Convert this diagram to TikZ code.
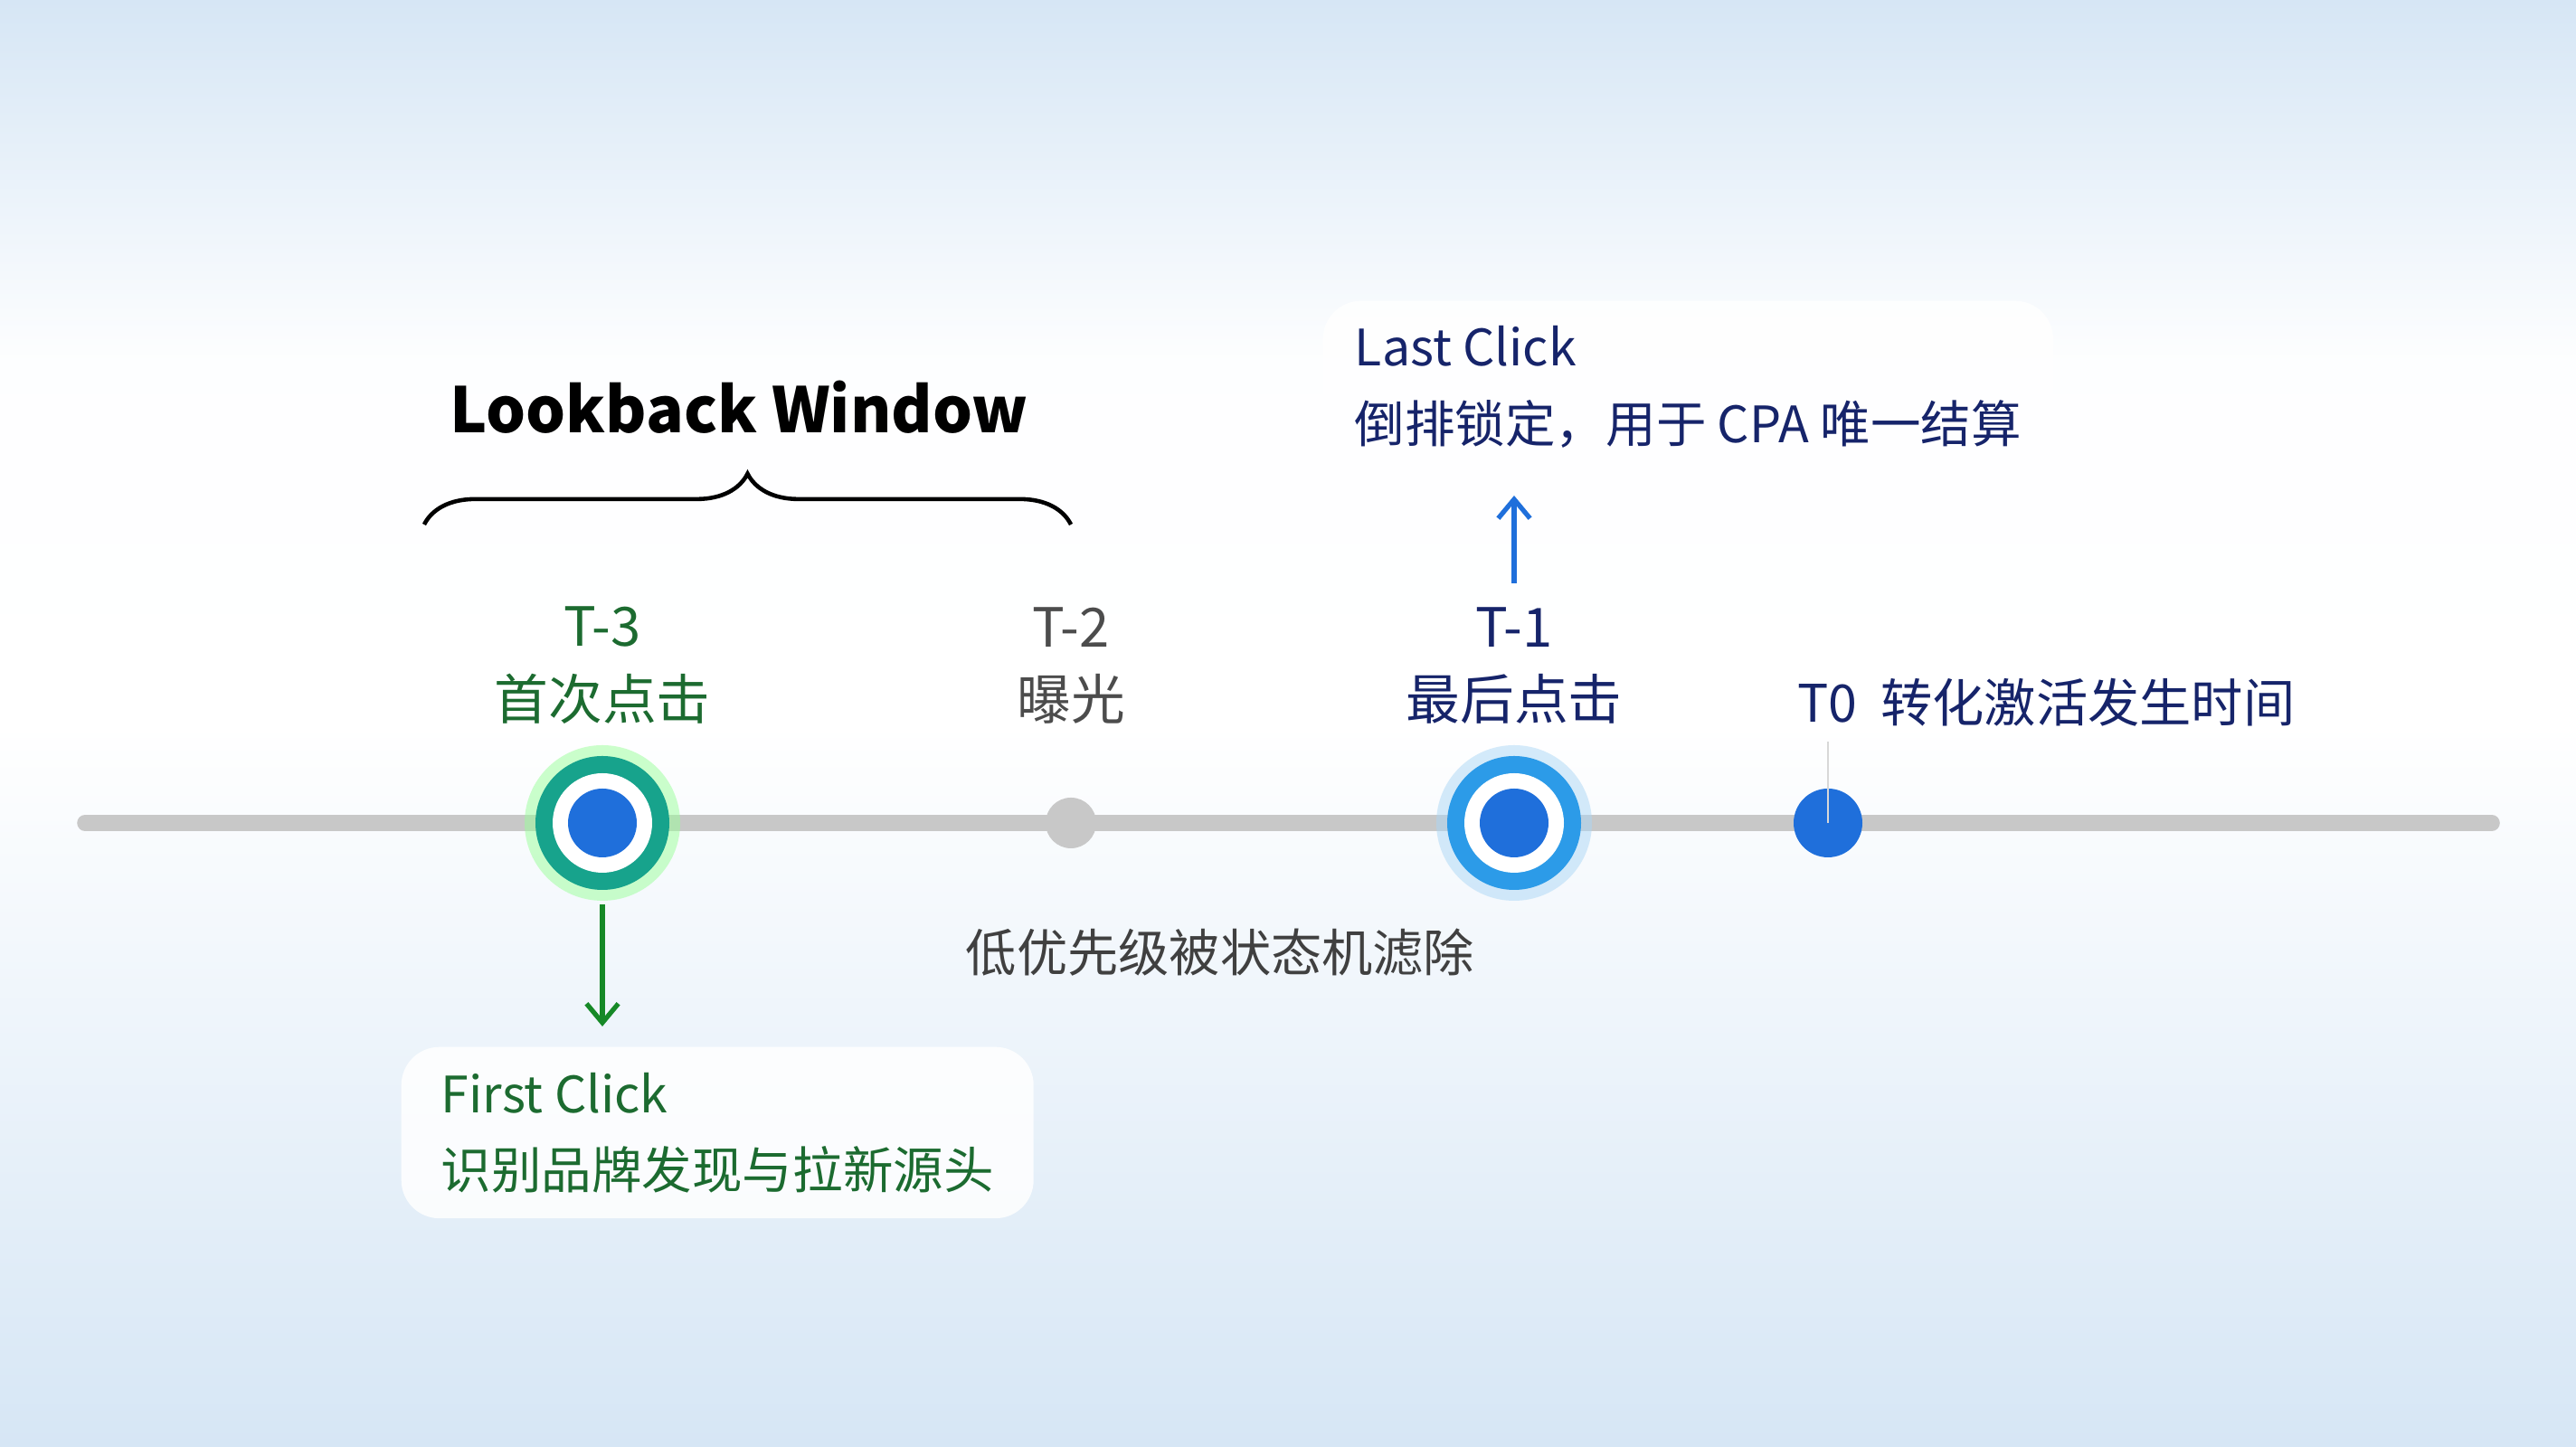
\documentclass[tikz,border=0pt]{standalone}
\usepackage{fontspec}
\setmainfont{Noto Sans CJK SC}
\usetikzlibrary{positioning,decorations.pathreplacing,arrows.meta}
\definecolor{bgblue}{HTML}{D6E6F5}
\definecolor{fgreen}{HTML}{1C6B30}
\definecolor{fnavy}{HTML}{16246A}
\definecolor{dotblue}{HTML}{1F6FDB}
\definecolor{tealring}{HTML}{17A38C}
\definecolor{skyring}{HTML}{2C9BE8}
\definecolor{axisgray}{HTML}{C8C8C8}
\tikzset{
  lbl/.style={font=\fontsize{17}{23}\selectfont, align=center},
  card/.style={fill=white, fill opacity=0.85, text opacity=1, rounded corners=12pt,
    align=left, inner xsep=10pt, inner ysep=8pt, font=\fontsize{15.8}{24}\selectfont},
  pointer/.style={-{Straight Barb[length=6pt,width=10pt]}, line width=1.5pt}
}
\begin{document}
\begin{tikzpicture}
    \useasboundingbox (0,0) rectangle (28.48,16);
    \shade[top color=bgblue, bottom color=white, middle color=white!96!bgblue] (0,8) rectangle (28.48,16);
    \shade[top color=white, bottom color=bgblue] (0,0) rectangle (28.48,8);
    % axis
    \coordinate (ax0) at (0.94,6.9);
    \coordinate (ax1) at (27.55,6.9);
    \draw[axisgray, line width=5pt, line cap=round] (ax0) -- (ax1);
    % points
    \coordinate (t3) at (6.66,6.9);
    \coordinate (t2) at (11.84,6.9);
    \coordinate (t1) at (16.74,6.9);
    \coordinate (t0) at (20.21,6.9);
    \fill[green!40, opacity=0.5] (t3) circle (0.86);
    \fill[tealring] (t3) circle (0.74);
    \fill[white] (t3) circle (0.55);
    \fill[dotblue] (t3) circle (0.38);
    \fill[axisgray] (t2) circle (0.28);
    \fill[skyring!40, opacity=0.5] (t1) circle (0.86);
    \fill[skyring] (t1) circle (0.74);
    \fill[white] (t1) circle (0.55);
    \fill[dotblue] (t1) circle (0.38);
    \fill[dotblue] (t0) circle (0.38);
    % labels
    \node[lbl, text=fgreen] (l3) at (6.66,8.64) {T-3\\首次点击};
    \node[lbl, text=black!70] (l2) at (11.84,8.64) {T-2\\曝光};
    \node[lbl, text=fnavy] (l1) at (16.74,8.64) {T-1\\最后点击};
    \node[font=\fontsize{16.3}{20}\selectfont, text=fnavy, anchor=west] (l0) at (19.75,8.23) {T0\ \ 转化激活发生时间};
    \draw[axisgray!70, line width=0.6pt] (t0) -- (20.21,7.8);
    \node[font=\fontsize{16}{18}\selectfont, text=black!75] (drop) at (13.49,5.47) {低优先级被状态机滤除};
    % window
    \node[font=\bfseries\fontsize{19.7}{24}\selectfont] (lw) at (8.17,11.5) {Lookback Window};
    \draw[line width=1.3pt, decorate, decoration={brace, amplitude=16pt}] (4.69,10.2) -- (11.84,10.2);
    % cards
    \node[card, anchor=north west, text=fnavy, minimum width=8.04cm] (last) at (14.62,12.68)
      {Last Click\\倒排锁定，用于 CPA 唯一结算};
    \node[card, anchor=north west, text=fgreen, minimum width=6.99cm] (first) at (4.43,4.43)
      {First Click\\识别品牌发现与拉新源头};
    \draw[pointer, dotblue] (16.74,9.55) -- (16.74,10.52);
    \draw[pointer, fgreen!80!green] (6.66,6.0) -- (6.66,4.65);
\end{tikzpicture}
\end{document}
